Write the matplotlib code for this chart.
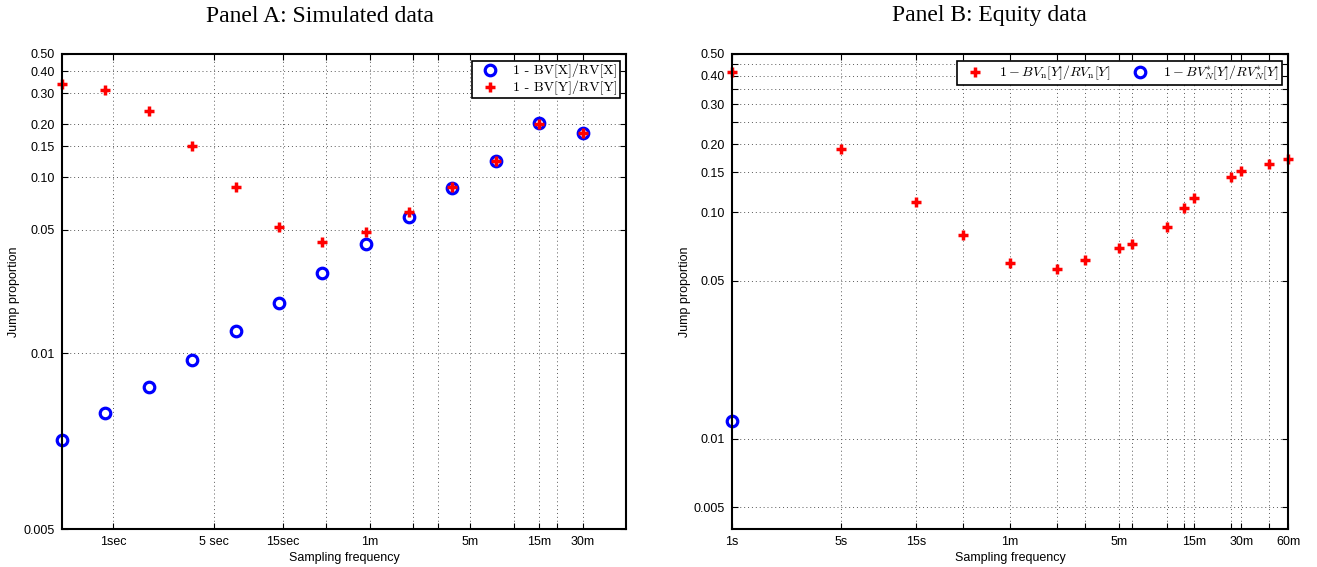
import matplotlib
matplotlib.use("Agg")
import matplotlib.pyplot as plt
from matplotlib.font_manager import FontProperties

plt.rcParams['font.family'] = ['Liberation Sans', 'DejaVu Sans']
plt.rcParams['mathtext.fontset'] = 'cm'

# ---------------- Panel A: simulated data ----------------
sim_freq_sec = [0.4395, 0.879, 1.758, 3.516, 7.031, 14.06, 28.13, 56.25, 112.5, 225, 450, 900, 1800]
sim_jump_x = [0.00319, 0.00456, 0.00641, 0.00917, 0.01334, 0.0193, 0.0285, 0.0415, 0.0594, 0.0865, 0.1236, 0.202, 0.179]
sim_jump_y = [0.339, 0.312, 0.238, 0.151, 0.0879, 0.0521, 0.0426, 0.0486, 0.0634, 0.0879, 0.1236, 0.199, 0.179]
a_xticks = [1, 5, 15, 30, 60, 120, 180, 300, 600, 900, 1200, 1800]
a_xticklabels = ['1sec', '5 sec', '15sec', '', '1m', '', '', '5m', '', '15m', '', '30m']
a_yticks = [0.001, 0.01, 0.05, 0.10, 0.15, 0.20, 0.30, 0.40, 0.50]
a_yticklabels = ['0.005', '0.01', '0.05', '0.10', '0.15', '0.20', '0.30', '0.40', '0.50']
a_labels = ['1 - BV[X]/RV[X]', '1 - BV[Y]/RV[Y]']

# ---------------- Panel B: equity data ----------------
eq_freq_sec = [1, 5, 15, 30, 60, 120, 180, 300, 360, 600, 780, 900, 1560, 1800, 2700, 3600]
eq_jump_n = [0.418, 0.191, 0.111, 0.0797, 0.0600, 0.0564, 0.0617, 0.0694, 0.0725, 0.0862, 0.105, 0.1158, 0.1433, 0.152, 0.163, 0.1715]
eq_freq_star = [1]
eq_jump_star = [0.0120]
b_xticks = [1, 5, 15, 30, 60, 120, 180, 300, 360, 600, 780, 900, 1560, 1800, 2700, 3600]
b_xticklabels = ['1s', '5s', '15s', '', '1m', '', '', '5m', '', '', '', '15m', '', '30m', '', '60m']
b_yticks = [0.005, 0.01, 0.05, 0.10, 0.15, 0.20, 0.25, 0.30, 0.35, 0.40, 0.45, 0.50]
b_yticklabels = ['0.005', '0.01', '0.05', '0.10', '0.15', '0.20', '', '0.30', '', '0.40', '', '0.50']
b_labels = [r'$1 - BV_{\mathrm{n}}[Y]/RV_{\mathrm{n}}[Y]$', r'$1 - BV^{*}_{N}[Y]/RV^{*}_{N}[Y]$']

W, H = 1317, 567
fig = plt.figure(figsize=(W / 100, H / 100), dpi=100)

def px_axes(x0, y0, x1, y1):
    return fig.add_axes([x0 / W, 1 - y1 / H, (x1 - x0) / W, (y1 - y0) / H])

axA = px_axes(62, 54, 626, 529)
axB = px_axes(731.7, 54, 1288.3, 529)

circ = dict(marker='o', linestyle='none', markersize=7.6, markerfacecolor='none',
            markeredgecolor='#0000ff', markeredgewidth=2.3, clip_on=False)
cross = dict(marker='+', linestyle='none', markersize=7.8, color='#ff0000',
             markeredgewidth=2.5, clip_on=False)

def style(ax, xt, xl, yt, yl, xlim, ylim, ypad):
    ax.set_xscale('log')
    ax.set_yscale('log')
    ax.set_xlim(*xlim)
    ax.set_ylim(*ylim)
    ax.set_xticks(xt)
    ax.set_xticklabels(xl)
    ax.set_yticks(yt)
    ax.set_yticklabels(yl)
    ax.minorticks_off()
    ax.tick_params(which='major', direction='in', length=4, width=0.8,
                   top=True, right=True, labelsize=9, pad=5, colors='black')
    ax.grid(True, which='major', linestyle=(0, (1, 3)), color='0.35', linewidth=0.7)
    for s in ax.spines.values():
        s.set_linewidth(1.5)
        s.set_zorder(5)
    ax.set_xlabel('Sampling frequency', fontsize=9, labelpad=3)
    ax.set_ylabel('Jump proportion', fontsize=9, labelpad=ypad)

# Panel A
style(axA, a_xticks, a_xticklabels, a_yticks, a_yticklabels,
      (sim_freq_sec[0], 3600), (0.001, 0.5), 3)
hA1, = axA.plot(sim_freq_sec, sim_jump_x, **circ, label=a_labels[0], zorder=3)
hA2, = axA.plot(sim_freq_sec, sim_jump_y, **cross, label=a_labels[1], zorder=4)
legA = axA.legend(handles=[hA1, hA2], loc='upper right',
                  prop=FontProperties(family='cmr10', size=10), frameon=True,
                  fancybox=False, edgecolor='black', framealpha=1, borderpad=0.2,
                  handletextpad=0.5, labelspacing=0.2, borderaxespad=0.0,
                  handlelength=2.2, numpoints=1, bbox_to_anchor=(0.9894, 0.985))
legA.get_frame().set_linewidth(1.2)

# Panel B
style(axB, b_xticks, b_xticklabels, b_yticks, b_yticklabels, (1, 3600), (0.004, 0.5), 1.5)
hB1, = axB.plot(eq_freq_sec, eq_jump_n, **cross, label=b_labels[0], zorder=4)
hB2, = axB.plot(eq_freq_star, eq_jump_star, **circ, label=b_labels[1], zorder=3)
legB = axB.legend(handles=[hB1, hB2], loc='upper right', ncol=2, fontsize=10, frameon=True,
                  fancybox=False, edgecolor='black', framealpha=1, borderpad=0.2,
                  handletextpad=0.6, columnspacing=1.0, borderaxespad=0.0,
                  handlelength=2.2, numpoints=1, bbox_to_anchor=(0.9892, 0.985))
legB.get_frame().set_linewidth(1.2)

fig.text(320 / W, 1 - 16 / H, 'Panel A: Simulated data', ha='center', va='center',
         fontsize=17, family=['Liberation Serif', 'DejaVu Serif'])
fig.text(989 / W, 1 - 16 / H, 'Panel B: Equity data', ha='center', va='center',
         fontsize=17, family=['Liberation Serif', 'DejaVu Serif'])

fig.savefig('out.png', dpi=100)
